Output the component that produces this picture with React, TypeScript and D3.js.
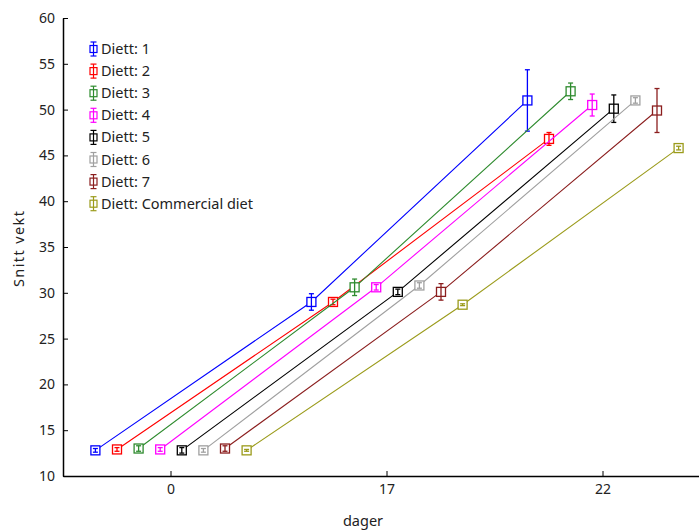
import React, { useEffect, useRef } from "react";
import * as d3 from "d3";

const days = ["0", "17", "22"];
const seriesNames = ["Diett: 1", "Diett: 2", "Diett: 3", "Diett: 4", "Diett: 5", "Diett: 6", "Diett: 7", "Diett: Commercial diet"];
const seriesColors = ["#0000ff", "#ff0000", "#2e8b2e", "#ff00ff", "#000000", "#a0a0a0", "#8b1e1e", "#9b9b1b"];
const meanValues = [
  [12.8, 29.0, 51.0],
  [12.9, 29.0, 46.8],
  [13.0, 30.6, 52.0],
  [12.9, 30.6, 50.5],
  [12.8, 30.1, 50.1],
  [12.8, 30.8, 51.0],
  [13.0, 30.1, 49.9],
  [12.8, 28.7, 45.8],
];
const errValues = [
  [0.2, 0.9, 3.35],
  [0.2, 0.3, 0.7],
  [0.3, 0.9, 0.9],
  [0.2, 0.3, 1.2],
  [0.3, 0.3, 1.5],
  [0.2, 0.3, 0.3],
  [0.3, 0.9, 2.4],
  [0.1, 0.1, 0.2],
];
const yTicks = [10, 15, 20, 25, 30, 35, 40, 45, 50, 55, 60];

const W = 699, H = 531;
const FONT = "'Noto Sans', 'Open Sans', Arial, sans-serif";

export default function App() {
  const ref = useRef<SVGSVGElement>(null);
  useEffect(() => {
    const svg = d3.select(ref.current);
    svg.selectAll("*").remove();
    const x = d3.scaleBand().domain(days).range([63, 711]).padding(0);
    const y = d3.scaleLinear().domain([10, 60]).range([476, 18]);
    const bw = x.bandwidth();
    const dodge = bw / 10;
    const px = (d: string, i: number) => (x(d) as number) + bw / 2 + (i - 3.5) * dodge;

    const yAxis = svg.append("g").attr("transform", "translate(63,0)")
      .call(d3.axisLeft(y).tickValues(yTicks).tickSizeInner(-5).tickSizeOuter(0).tickPadding(8));
    const xAxis = svg.append("g").attr("transform", "translate(0,476)")
      .call(d3.axisBottom(x).tickSizeInner(-5).tickSizeOuter(0).tickPadding(8));
    [yAxis, xAxis].forEach((g) => {
      g.selectAll("text").attr("font-family", FONT).attr("font-size", 14).attr("fill", "#222");
      g.selectAll("line").attr("stroke", "#000").attr("stroke-width", 1);
      g.select(".domain").attr("stroke", "#000").attr("stroke-width", 1.5);
    });

    svg.append("text").attr("transform", "translate(24,249) rotate(-90)")
      .attr("text-anchor", "middle").attr("font-family", FONT).attr("font-size", 14.5).attr("fill", "#222")
      .attr("textLength", 76).attr("lengthAdjust", "spacing")
      .text("Snitt vekt");
    svg.append("text").attr("x", 363).attr("y", 526)
      .attr("text-anchor", "middle").attr("font-family", FONT).attr("font-size", 14.5).attr("fill", "#222")
      .text("dager");

    const line = d3.line<[number, number]>().x((d) => d[0]).y((d) => d[1]);
    meanValues.forEach((vals, i) => {
      const c = seriesColors[i];
      const pts: [number, number][] = vals.map((v, j) => [px(days[j], i), y(v)]);
      const g = svg.append("g");
      g.append("path").attr("d", line(pts)).attr("fill", "none").attr("stroke", c).attr("stroke-width", 1.1);
      vals.forEach((v, j) => {
        const cx = px(days[j], i);
        const e = errValues[i][j];
        g.append("rect").attr("x", cx - 4.5).attr("y", y(v) - 4.5).attr("width", 9).attr("height", 9)
          .attr("fill", "#fff").attr("stroke", c).attr("stroke-width", 1.3);
        g.append("line").attr("x1", cx).attr("x2", cx).attr("y1", y(v + e)).attr("y2", y(v - e)).attr("stroke", c).attr("stroke-width", 1.3);
        [v + e, v - e].forEach((ev) => {
          g.append("line").attr("x1", cx - 2.5).attr("x2", cx + 2.5).attr("y1", y(ev)).attr("y2", y(ev)).attr("stroke", c).attr("stroke-width", 1.3);
        });
      });
    });

    const leg = svg.append("g");
    seriesNames.forEach((name, i) => {
      const cy = 49 + i * 22.1;
      const c = seriesColors[i];
      const lx = 93.5;
      leg.append("line").attr("x1", lx).attr("x2", lx).attr("y1", cy - 7).attr("y2", cy + 7).attr("stroke", c).attr("stroke-width", 1.2);
      [cy - 7, cy + 7].forEach((yy) => {
        leg.append("line").attr("x1", lx - 3).attr("x2", lx + 3).attr("y1", yy).attr("y2", yy).attr("stroke", c).attr("stroke-width", 1.2);
      });
      leg.append("rect").attr("x", lx - 3.5).attr("y", cy - 3.5).attr("width", 7).attr("height", 7)
        .attr("fill", "none").attr("stroke", c).attr("stroke-width", 1.2);
      leg.append("text").attr("x", 101).attr("y", cy + 5).attr("font-family", FONT).attr("font-size", 14.5).attr("fill", "#222").text(name);
    });
  }, []);
  return (
    <svg ref={ref} width={W} height={H} style={{ position: "absolute", left: 0, top: 0, background: "#fff" }} />
  );
}
